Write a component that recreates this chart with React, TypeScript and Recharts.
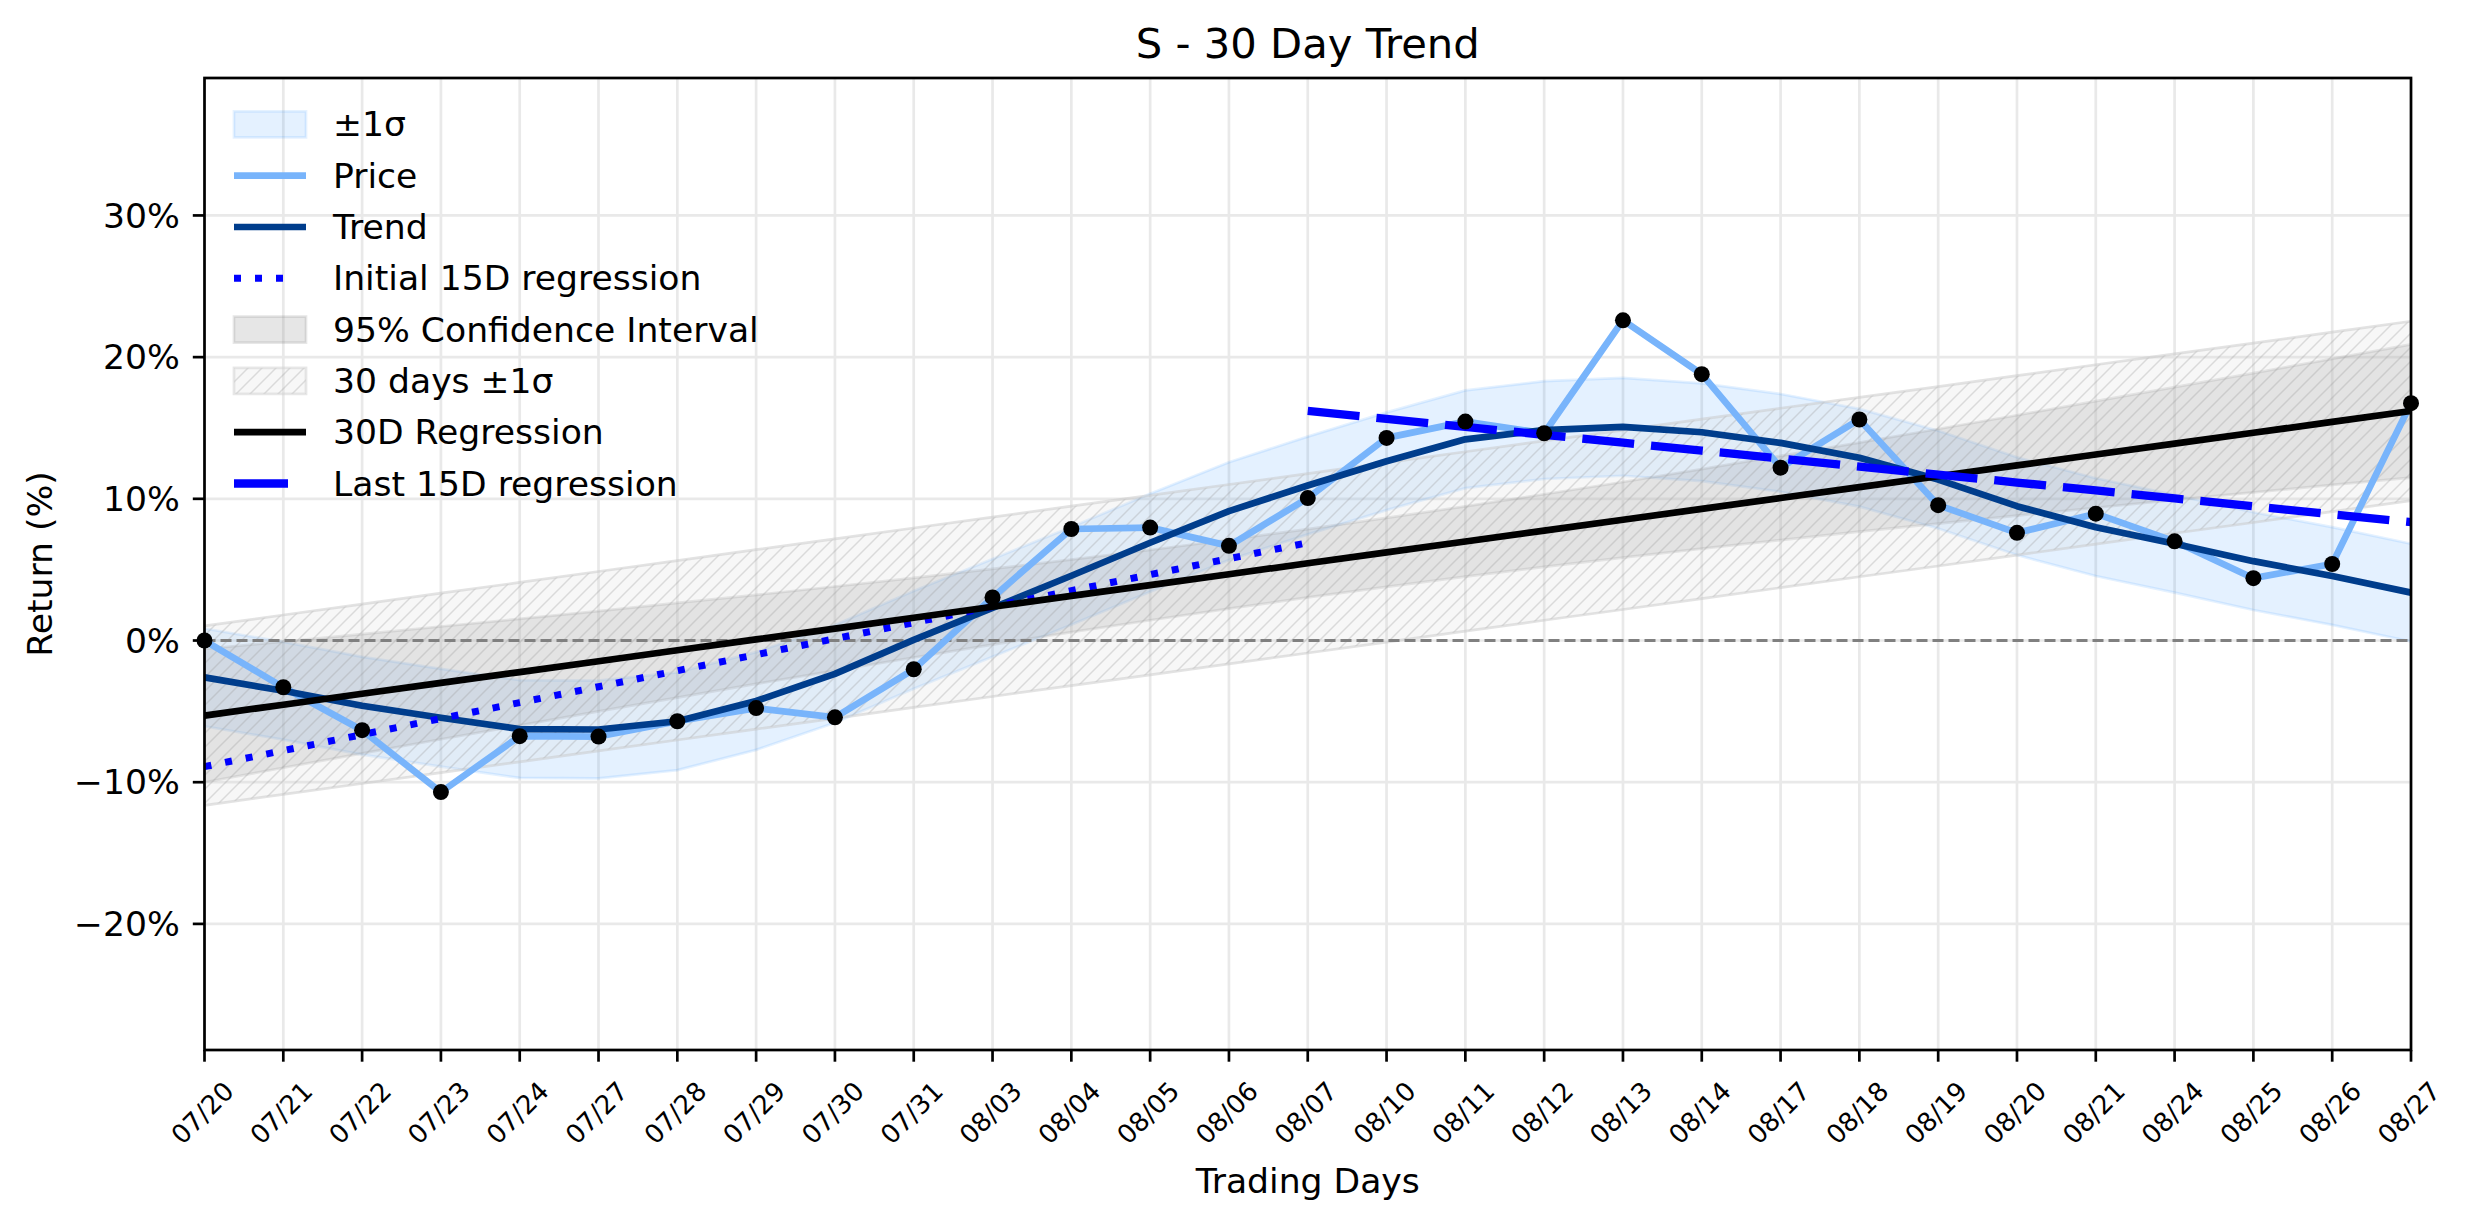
import React from "react";
import {
  ComposedChart,
  Area,
  Line,
  XAxis,
  YAxis,
  CartesianGrid,
  ReferenceLine,
} from "recharts";

// 거래일 라벨
const dates = [
  "07/20", "07/21", "07/22", "07/23", "07/24", "07/27", "07/28", "07/29", "07/30", "07/31",
  "08/03", "08/04", "08/05", "08/06", "08/07", "08/10", "08/11", "08/12", "08/13", "08/14",
  "08/17", "08/18", "08/19", "08/20", "08/21", "08/24", "08/25", "08/26", "08/27",
];

// 누적 수익률 (%)
const price = [
  0, -3.3, -6.33, -10.7, -6.75, -6.78, -5.7, -4.77, -5.42, -2.03,
  3.04, 7.87, 7.97, 6.68, 10.05, 14.3, 15.45, 14.63, 22.6, 18.8,
  12.2, 15.6, 9.55, 7.6, 8.95, 7.0, 4.4, 5.4, 16.75,
];

const trend = [
  -2.6, -3.55, -4.6, -5.45, -6.25, -6.28, -5.7, -4.27, -2.35, 0.05,
  2.3, 4.57, 6.9, 9.13, 10.94, 12.65, 14.2, 14.85, 15.08, 14.7,
  13.95, 12.9, 11.36, 9.48, 8.0, 6.83, 5.6, 4.55, 3.38,
];

// ±1σ 밴드 (추세 기준)
const sigmaLow = [
  -6.05, -7.0, -8.05, -8.9, -9.7, -9.73, -9.15, -7.72, -5.8, -3.4,
  -1.15, 1.12, 3.45, 5.68, 7.49, 9.2, 10.75, 11.4, 11.63, 11.25,
  10.5, 9.45, 7.91, 6.03, 4.55, 3.38, 2.15, 1.1, -0.07,
];
const sigmaHigh = [
  0.85, -0.1, -1.15, -2.0, -2.8, -2.83, -2.25, -0.82, 1.1, 3.5,
  5.75, 8.02, 10.35, 12.58, 14.39, 16.1, 17.65, 18.3, 18.53, 18.15,
  17.4, 16.35, 14.81, 12.93, 11.45, 10.28, 9.05, 8.0, 6.83,
];

// 30일 회귀선
const reg30 = [
  -5.3, -4.53, -3.76, -2.99, -2.23, -1.46, -0.69, 0.08, 0.84, 1.61,
  2.38, 3.15, 3.91, 4.68, 5.45, 6.22, 6.99, 7.76, 8.52, 9.29,
  10.06, 10.83, 11.59, 12.36, 13.13, 13.9, 14.66, 15.43, 16.2,
];

// 95% 신뢰구간
const ciLow = [
  -10.0, -8.98, -7.97, -6.97, -5.99, -5.0, -4.03, -3.06, -2.13, -1.2,
  -0.29, 0.59, 1.43, 2.25, 3.04, 3.79, 4.51, 5.2, 5.85, 6.48,
  7.09, 7.69, 8.25, 8.82, 9.37, 9.92, 10.45, 10.98, 11.5,
];
const ciHigh = [
  -0.6, -0.08, 0.45, 0.99, 1.53, 2.08, 2.65, 3.22, 3.81, 4.42,
  5.05, 5.71, 6.39, 7.11, 7.86, 8.65, 9.47, 10.32, 11.19, 12.1,
  13.03, 13.97, 14.93, 15.9, 16.89, 17.88, 18.87, 19.88, 20.9,
];

// 30일 ±1σ (회귀선 기준)
const sdLow = [
  -11.63, -10.86, -10.09, -9.32, -8.56, -7.79, -7.02, -6.25, -5.49, -4.72,
  -3.95, -3.18, -2.42, -1.65, -0.88, -0.11, 0.66, 1.43, 2.19, 2.96,
  3.73, 4.5, 5.26, 6.03, 6.8, 7.57, 8.33, 9.1, 9.87,
];
const sdHigh = [
  1.03, 1.8, 2.57, 3.34, 4.1, 4.87, 5.64, 6.41, 7.17, 7.94,
  8.71, 9.48, 10.24, 11.01, 11.78, 12.55, 13.32, 14.09, 14.85, 15.62,
  16.39, 17.16, 17.92, 18.69, 19.46, 20.23, 20.99, 21.76, 22.53,
];

// 처음 15일 / 마지막 15일 회귀선
const initReg = [
  -8.9, -7.77, -6.64, -5.51, -4.38, -3.26, -2.13, -1.0, 0.13, 1.26,
  2.39, 3.52, 4.65, 5.78, 6.9,
];
const lastReg = [
  16.2, 15.64, 15.08, 14.52, 13.96, 13.4, 12.84, 12.27, 11.71, 11.15,
  10.59, 10.03, 9.47, 8.91, 8.35,
];

const yTicks = [-20, -10, 0, 10, 20, 30];

// 레이아웃
const W = 2474;
const H = 1224;
const PLOT_L = 204.5;
const PLOT_R = 2411;
const PLOT_T = 78;
const PLOT_B = 1050;
const FONT = "DejaVu Sans";
const FS = 34.6;

const PRICE = "#78b4fb";
const TREND = "#003d8c";
const BLUE = "#0000ff";
const SIGMA = "#1f8bff";

const lastStart = dates.length - lastReg.length;

const data = dates.map((d, i) => ({
  i,
  date: d,
  price: price[i],
  trend: trend[i],
  sigma: [sigmaLow[i], sigmaHigh[i]],
  ci: [ciLow[i], ciHigh[i]],
  sd: [sdLow[i], sdHigh[i]],
  reg: reg30[i],
  init: i < initReg.length ? initReg[i] : null,
  last: i >= lastStart ? lastReg[i - lastStart] : null,
}));

const fmtPct = (v: number) => `${v < 0 ? "\u2212" : ""}${Math.abs(v)}%`;

/** 45도 회전 날짜 라벨 */
function DateTick({ x, payload }: { x?: number; payload?: { value: number } }) {
  const cy = PLOT_B + 63;
  const cx = (x ?? 0) - 2;
  return (
    <text
      x={cx}
      y={cy}
      transform={`rotate(-45 ${cx} ${cy})`}
      textAnchor="middle"
      dominantBaseline="central"
      fontSize={26}
      fontFamily={FONT}
      fill="#000"
    >
      {dates[payload?.value ?? 0]}
    </text>
  );
}

function HatchPattern({ id }: { id: string }) {
  return (
    <pattern id={id} patternUnits="userSpaceOnUse" width={14} height={14}>
      <rect width={14} height={14} fill="#d9d9d9" fillOpacity={0.2} />
      <path
        d="M-3.5,3.5 L3.5,-3.5 M0,14 L14,0 M10.5,17.5 L17.5,10.5"
        stroke="#9a9a9a"
        strokeOpacity={0.3}
        strokeWidth={1.5}
      />
    </pattern>
  );
}

type LegendKind = "sigma" | "line" | "ci" | "hatch";
const legendItems: Array<{ label: string; kind: LegendKind; color?: string; width?: number; dash?: string }> = [
  { label: "±1σ", kind: "sigma" },
  { label: "Price", kind: "line", color: PRICE, width: 6.7 },
  { label: "Trend", kind: "line", color: TREND, width: 6.7 },
  { label: "Initial 15D regression", kind: "line", color: BLUE, width: 7, dash: "7 14" },
  { label: "95% Confidence Interval", kind: "ci" },
  { label: "30 days ±1σ", kind: "hatch" },
  { label: "30D Regression", kind: "line", color: "#000", width: 6.7 },
  { label: "Last 15D regression", kind: "line", color: BLUE, width: 8.3, dash: "54 30" },
];

function Overlay() {
  const rowY0 = 124.4;
  const rowGap = 51.3;
  return (
    <svg
      width={W}
      height={H}
      style={{ position: "absolute", left: 0, top: 0, pointerEvents: "none" }}
    >
      <defs>
        <HatchPattern id="hatchLegend" />
      </defs>

      {/* 축 테두리 */}
      <rect
        x={PLOT_L}
        y={PLOT_T}
        width={PLOT_R - PLOT_L}
        height={PLOT_B - PLOT_T}
        fill="none"
        stroke="#000"
        strokeWidth={2.7}
      />

      <text x={(PLOT_L + PLOT_R) / 2} y={58} textAnchor="middle" fontSize={41.7} fontFamily={FONT} fill="#000">
        S - 30 Day Trend
      </text>
      <text x={(PLOT_L + PLOT_R) / 2} y={1193} textAnchor="middle" fontSize={FS} fontFamily={FONT} fill="#000">
        Trading Days
      </text>
      <text
        x={51.7}
        y={(PLOT_T + PLOT_B) / 2}
        transform={`rotate(-90 51.7 ${(PLOT_T + PLOT_B) / 2})`}
        textAnchor="middle"
        fontSize={FS}
        fontFamily={FONT}
        fill="#000"
      >
        Return (%)
      </text>

      {/* 범례 */}
      {legendItems.map((it, k) => {
        const cy = rowY0 + k * rowGap;
        let handle: React.ReactNode = null;
        if (it.kind === "line") {
          handle = (
            <line
              x1={234}
              x2={it.dash ? 290 : 306}
              y1={cy}
              y2={cy}
              stroke={it.color}
              strokeWidth={it.width}
              strokeDasharray={it.dash}
            />
          );
        } else if (it.kind === "sigma") {
          handle = (
            <rect x={234} y={cy - 13} width={72} height={26} fill={SIGMA} fillOpacity={0.12} stroke={SIGMA} strokeOpacity={0.12} strokeWidth={2.7} />
          );
        } else if (it.kind === "ci") {
          handle = (
            <rect x={234} y={cy - 13} width={72} height={26} fill="#808080" fillOpacity={0.2} stroke="#808080" strokeOpacity={0.2} strokeWidth={2.7} />
          );
        } else {
          handle = (
            <rect x={234} y={cy - 13} width={72} height={26} fill="url(#hatchLegend)" stroke="#cfcfcf" strokeOpacity={0.5} strokeWidth={2.7} />
          );
        }
        return (
          <g key={it.label}>
            {handle}
            <text x={333} y={cy} dominantBaseline="central" fontSize={FS} fontFamily={FONT} fill="#000">
              {it.label}
            </text>
          </g>
        );
      })}
    </svg>
  );
}

export default function App() {
  return (
    <div
      style={{
        position: "absolute",
        left: 0,
        top: 0,
        width: W,
        height: H,
        background: "#fff",
        fontFamily: FONT,
      }}
    >
      <ComposedChart
        width={W}
        height={H}
        data={data}
        margin={{ top: PLOT_T, right: W - PLOT_R, bottom: H - PLOT_B - 120, left: PLOT_L - 150 }}
      >
        <defs>
          <HatchPattern id="hatchBand" />
        </defs>

        <CartesianGrid stroke="#e9e9e9" strokeWidth={2.7} />

        <XAxis
          type="number"
          dataKey="i"
          domain={[0, dates.length - 1]}
          ticks={dates.map((_, i) => i)}
          interval={0}
          height={120}
          axisLine={false}
          tickSize={11.7}
          tickLine={{ stroke: "#000", strokeWidth: 2.7 }}
          tick={<DateTick />}
        />
        <YAxis
          type="number"
          domain={[-28.9, 39.7]}
          ticks={yTicks}
          allowDataOverflow
          width={150}
          axisLine={false}
          tickSize={11.7}
          tickMargin={13}
          tickLine={{ stroke: "#000", strokeWidth: 2.7 }}
          tick={{ fill: "#000", fontSize: FS, fontFamily: FONT }}
          tickFormatter={fmtPct}
        />

        {/* ±1σ 밴드 */}
        <Area
          dataKey="sigma"
          type="linear"
          fill={SIGMA}
          fillOpacity={0.12}
          stroke={SIGMA}
          strokeOpacity={0.12}
          strokeWidth={2.7}
          isAnimationActive={false}
          activeDot={false}
        />
        {/* 95% 신뢰구간 */}
        <Area
          dataKey="ci"
          type="linear"
          fill="#808080"
          fillOpacity={0.2}
          stroke="#808080"
          strokeOpacity={0.2}
          strokeWidth={2.7}
          isAnimationActive={false}
          activeDot={false}
        />
        {/* 30일 ±1σ 빗금 */}
        <Area
          dataKey="sd"
          type="linear"
          fill="url(#hatchBand)"
          fillOpacity={1}
          stroke="#c8c8c8"
          strokeOpacity={0.5}
          strokeWidth={2.7}
          isAnimationActive={false}
          activeDot={false}
        />

        <ReferenceLine y={0} stroke="#808080" strokeWidth={3} strokeDasharray="11 5" />

        <Line dataKey="price" type="linear" stroke={PRICE} strokeWidth={6.7} strokeLinejoin="round" dot={false} activeDot={false} isAnimationActive={false} />
        <Line dataKey="trend" type="linear" stroke={TREND} strokeWidth={6.7} strokeLinejoin="round" dot={false} activeDot={false} isAnimationActive={false} />
        <Line dataKey="init" type="linear" stroke={BLUE} strokeWidth={7} strokeDasharray="7 14" dot={false} activeDot={false} isAnimationActive={false} />
        <Line dataKey="reg" type="linear" stroke="#000" strokeWidth={6.7} dot={false} activeDot={false} isAnimationActive={false} />
        <Line dataKey="last" type="linear" stroke={BLUE} strokeWidth={8.3} strokeDasharray="52 17" dot={false} activeDot={false} isAnimationActive={false} />

        {/* 가격 점 */}
        <Line
          dataKey="price"
          type="linear"
          stroke="none"
          strokeWidth={0}
          dot={{ r: 8, fill: "#000", stroke: "none" }}
          activeDot={false}
          isAnimationActive={false}
        />
      </ComposedChart>
      <Overlay />
    </div>
  );
}
